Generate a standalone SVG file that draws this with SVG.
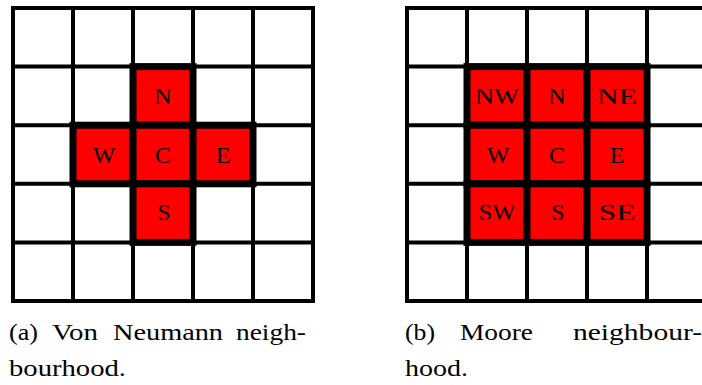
<svg xmlns="http://www.w3.org/2000/svg" width="702" height="385" viewBox="0 0 702 385">
<style>
.bg{fill:#fff}
.grid line{stroke:#000;stroke-width:4}
.grid rect.frame{fill:none;stroke:#000;stroke-width:4}
.cell rect{fill:#ff0000;stroke:#000;stroke-width:7}
.cell text{font-family:"Liberation Serif","Times New Roman",serif;font-size:24px;fill:#000;text-anchor:middle}
.cap{font-family:"Liberation Serif","Times New Roman",serif;font-size:22.5px;fill:#000}
</style>
<rect class="bg" x="0" y="0" width="702" height="385"/>
<g id="gridA" class="grid">
  <rect class="frame" x="13" y="8" width="300" height="293"/>
  <line x1="73" y1="8" x2="73" y2="301"/>
  <line x1="133" y1="8" x2="133" y2="301"/>
  <line x1="193" y1="8" x2="193" y2="301"/>
  <line x1="253" y1="8" x2="253" y2="301"/>
  <line x1="13" y1="66.6" x2="313" y2="66.6"/>
  <line x1="13" y1="125.2" x2="313" y2="125.2"/>
  <line x1="13" y1="183.8" x2="313" y2="183.8"/>
  <line x1="13" y1="242.4" x2="313" y2="242.4"/>
</g>
<g id="gridB" class="grid">
  <rect class="frame" x="407" y="8" width="300" height="293"/>
  <line x1="467" y1="8" x2="467" y2="301"/>
  <line x1="527" y1="8" x2="527" y2="301"/>
  <line x1="587" y1="8" x2="587" y2="301"/>
  <line x1="647" y1="8" x2="647" y2="301"/>
  <line x1="407" y1="66.6" x2="707" y2="66.6"/>
  <line x1="407" y1="125.2" x2="707" y2="125.2"/>
  <line x1="407" y1="183.8" x2="707" y2="183.8"/>
  <line x1="407" y1="242.4" x2="707" y2="242.4"/>
</g>
<g id="a-N" class="cell"><rect x="133" y="66.6" width="60" height="58.6"/><text x="163" y="104">N</text></g>
<g id="a-W" class="cell"><rect x="73" y="125.2" width="60" height="58.6"/><text x="104" y="163">W</text></g>
<g id="a-C" class="cell"><rect x="133" y="125.2" width="60" height="58.6"/><text x="163" y="163">C</text></g>
<g id="a-E" class="cell"><rect x="193" y="125.2" width="60" height="58.6"/><text x="223" y="163">E</text></g>
<g id="a-S" class="cell"><rect x="133" y="183.8" width="60" height="58.6"/><text x="164" y="219.5">S</text></g>
<g id="b-NW" class="cell"><rect x="467" y="66.6" width="60" height="58.6"/><text x="497" y="104" textLength="44" lengthAdjust="spacingAndGlyphs">NW</text></g>
<g id="b-N" class="cell"><rect x="527" y="66.6" width="60" height="58.6"/><text x="557" y="104">N</text></g>
<g id="b-NE" class="cell"><rect x="587" y="66.6" width="60" height="58.6"/><text x="617" y="104" textLength="40" lengthAdjust="spacingAndGlyphs">NE</text></g>
<g id="b-W" class="cell"><rect x="467" y="125.2" width="60" height="58.6"/><text x="498" y="163">W</text></g>
<g id="b-C" class="cell"><rect x="527" y="125.2" width="60" height="58.6"/><text x="557" y="163">C</text></g>
<g id="b-E" class="cell"><rect x="587" y="125.2" width="60" height="58.6"/><text x="617" y="163">E</text></g>
<g id="b-SW" class="cell"><rect x="467" y="183.8" width="60" height="58.6"/><text x="497" y="220" textLength="37" lengthAdjust="spacingAndGlyphs">SW</text></g>
<g id="b-S" class="cell"><rect x="527" y="183.8" width="60" height="58.6"/><text x="558" y="220">S</text></g>
<g id="b-SE" class="cell"><rect x="587" y="183.8" width="60" height="58.6"/><text x="617" y="220" textLength="37" lengthAdjust="spacingAndGlyphs">SE</text></g>
<g id="captionA">
  <text class="cap" y="340"><tspan x="9" textLength="29" lengthAdjust="spacingAndGlyphs">(a)</tspan> <tspan x="52" textLength="46" lengthAdjust="spacingAndGlyphs">Von</tspan> <tspan x="113" textLength="110" lengthAdjust="spacingAndGlyphs">Neumann</tspan> <tspan x="236" textLength="70" lengthAdjust="spacingAndGlyphs">neigh-</tspan></text>
  <text class="cap" x="9" y="376" textLength="117" lengthAdjust="spacingAndGlyphs">bourhood.</text>
</g>
<g id="captionB">
  <text class="cap" y="340"><tspan x="405" textLength="30" lengthAdjust="spacingAndGlyphs">(b)</tspan> <tspan x="460" textLength="73" lengthAdjust="spacingAndGlyphs">Moore</tspan> <tspan x="573" textLength="129" lengthAdjust="spacingAndGlyphs">neighbour-</tspan></text>
  <text class="cap" x="405" y="376" textLength="63" lengthAdjust="spacingAndGlyphs">hood.</text>
</g>
</svg>
